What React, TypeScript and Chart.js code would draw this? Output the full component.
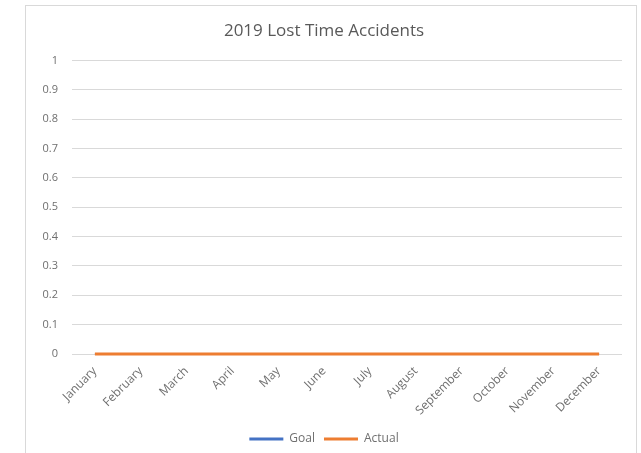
import React, { useEffect, useRef } from "react";
import { Chart, registerables } from "chart.js";

Chart.register(...registerables);

const months = ["January", "February", "March", "April", "May", "June", "July", "August", "September", "October", "November", "December"];
const goalValues = [0, 0, 0, 0, 0, 0, 0, 0, 0, 0, 0, 0];
const actualValues = [0, 0, 0, 0, 0, 0, 0, 0, 0, 0, 0, 0];
const chartTitle = "2019 Lost Time Accidents";

export default function App() {
  const ref = useRef<HTMLCanvasElement | null>(null);
  useEffect(() => {
    if (!ref.current) return;
    const font = "'Open Sans', sans-serif";
    const tickColor = "#6F6F6F";
    const chart = new Chart(ref.current, {
      type: "line",
      data: {
        labels: months,
        datasets: [
          { label: "Goal", data: goalValues, borderColor: "#4472C4", backgroundColor: "#4472C4", borderWidth: 2, pointRadius: 0, order: 1, clip: false },
          { label: "Actual", data: actualValues, borderColor: "#ED7D31", backgroundColor: "#ED7D31", borderWidth: 3, pointRadius: 0, order: 0, clip: false },
        ],
      },
      options: {
        animation: false,
        responsive: false,
        layout: { padding: { left: 0, right: 14, top: 0, bottom: 0 } },
        plugins: {
          title: { display: true, text: chartTitle, color: "#595959", font: { family: font, size: 17, weight: "normal" }, padding: { top: 15, bottom: 19 } },
          legend: {
            position: "bottom",
            labels: {
              color: tickColor,
              font: { family: font, size: 12 },
              boxWidth: 34,
              boxHeight: 0,
              padding: 9,
              generateLabels: (c: any) => c.data.datasets.map((d: any, i: number) => ({
                text: d.label, fillStyle: d.borderColor, strokeStyle: d.borderColor, lineWidth: 3, hidden: false, datasetIndex: i, fontColor: tickColor,
              })),
            },
          },
          tooltip: { enabled: false },
        },
        scales: {
          x: {
            offset: true,
            grid: { display: false },
            border: { display: false },
            ticks: { color: tickColor, font: { family: font, size: 12 }, minRotation: 45, maxRotation: 45, padding: 2 },
            afterFit: (s: any) => { s.height = 70; },
          },
          y: {
            min: 0,
            max: 1,
            ticks: {
              stepSize: 0.1, color: tickColor, font: { family: font, size: 11 }, padding: 14,
              callback: (v: any) => String(Math.round(Number(v) * 10) / 10),
            },
            grid: { color: "#D9D9D9", lineWidth: 1, drawTicks: false },
            border: { display: false },
            afterFit: (s: any) => { s.width = 46; },
          },
        },
      },
    });
    return () => chart.destroy();
  }, []);
  return (
    <div style={{ position: "fixed", left: 0, top: 0, width: 641, height: 453, background: "#fff", overflow: "hidden" }}>
      <div style={{ position: "absolute", left: 25, top: 5, width: 610, height: 460, border: "1px solid #D9D9D9" }}>
        <canvas ref={ref} width={610} height={449} style={{ display: "block" }} />
      </div>
    </div>
  );
}
